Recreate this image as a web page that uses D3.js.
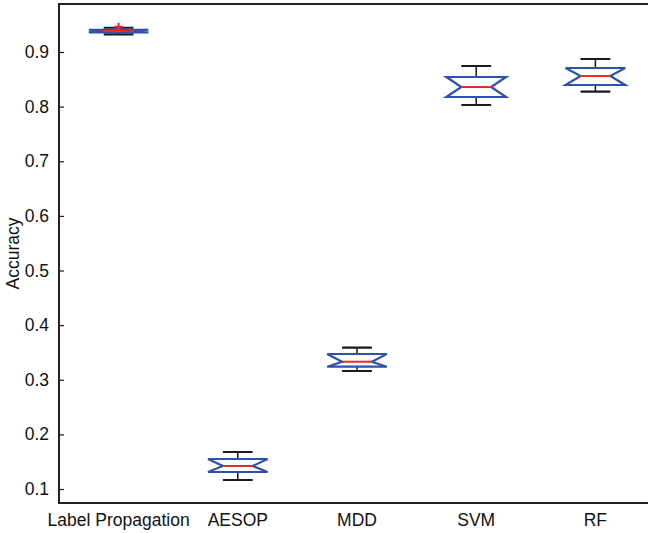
<!DOCTYPE html>
<html>
<head>
<meta charset="utf-8">
<script src="https://cdn.jsdelivr.net/npm/d3@7"></script>
<style>
  body { margin: 0; background: #fff; }
  text { font-family: "Liberation Sans", Arial, sans-serif; }
</style>
</head>
<body>
<div id="chart"></div>
<script>
const categories = ["Label Propagation", "AESOP", "MDD", "SVM", "RF"];
const whiskerLow = [0.9323, 0.1165, 0.3160, 0.8030, 0.8273];
const q1 = [0.9360, 0.1311, 0.3239, 0.8176, 0.8396];
const medians = [0.9384, 0.1421, 0.3330, 0.8359, 0.8560];
const q3 = [0.9407, 0.1549, 0.3471, 0.8542, 0.8707];
const whiskerHigh = [0.9444, 0.1677, 0.3587, 0.8744, 0.8872];
const outliers = [[0.9462], [], [], [], []];
const yTicks = [0.1, 0.2, 0.3, 0.4, 0.5, 0.6, 0.7, 0.8, 0.9];

(function boxes(){
let width = 648,
    height = 533,
    margin = ({top: 4, right: -7, bottom: 30, left: 59});

const fs = 17.5;

const svg = d3.select("#chart")
    .append("svg")
    .attr("width", width)
    .attr("height", height);

let data = categories.map((c, i) => ({
    name: c, pos: i + 1,
    lo: whiskerLow[i], q1: q1[i], med: medians[i], q3: q3[i], hi: whiskerHigh[i],
    out: outliers[i]
}));

let x = d3.scaleLinear()
    .domain([0.5, categories.length + 0.5])
    .range([margin.left, width - margin.right]);

let y = d3.scaleLinear()
    .domain([0.07437, 0.98787])
    .range([height - margin.bottom, margin.top]);

const boxW = x(1.25) - x(0.75);
const blue = "#3050ad", red = "#ec2a24", ink = "#1a1a1a";

// y axis, ticks pointing inward
const yAxis = g => g
    .attr("transform", `translate(${margin.left},0)`)
    .call(d3.axisRight(y).tickValues(yTicks).tickFormat(d3.format(".1f")).tickSize(5))
    .call(g => g.select(".domain").remove())
    .call(g => g.selectAll(".tick line").attr("stroke", ink).attr("stroke-width", 1.2))
    .call(g => g.selectAll(".tick text")
        .attr("x", -10)
        .attr("text-anchor", "end")
        .attr("font-size", fs)
        .attr("fill", "#111"));

svg.append("g").call(yAxis);

// x category labels
svg.append("g")
    .selectAll("text")
    .data(data)
    .join("text")
    .attr("x", d => x(d.pos))
    .attr("y", height - margin.bottom + 23)
    .attr("text-anchor", "middle")
    .attr("font-size", fs)
    .attr("fill", "#111")
    .text(d => d.name);

svg.append("text")
    .attr("transform", `translate(19,${(y.range()[0] + y.range()[1]) / 2}) rotate(-90)`)
    .attr("text-anchor", "middle")
    .attr("font-size", fs)
    .attr("fill", "#111")
    .text("Accuracy");

let box = svg.selectAll(".box")
    .data(data)
    .join("g")
    .attr("class", "box");

// whiskers
box.append("path")
    .attr("fill", "none")
    .attr("stroke", ink)
    .attr("stroke-width", 1.5)
    .attr("d", d => `M${x(d.pos)},${y(d.hi)}V${y(d.q3)}M${x(d.pos)},${y(d.q1)}V${y(d.lo)}`);

box.append("path")
    .attr("fill", "none")
    .attr("stroke", ink)
    .attr("stroke-width", 2.2)
    .attr("d", d => {
        let c = x(d.pos);
        return `M${c - boxW / 4},${y(d.hi)}H${c + boxW / 4}M${c - boxW / 4},${y(d.lo)}H${c + boxW / 4}`;
    });

// notched box outline
box.append("path")
    .attr("fill", "none")
    .attr("stroke", blue)
    .attr("stroke-width", 2.2)
    .attr("stroke-linejoin", "miter")
    .attr("d", d => {
        let c = x(d.pos), l = c - boxW / 2, r = c + boxW / 2;
        return `M${l},${y(d.q3)}L${r},${y(d.q3)}L${c + boxW / 4},${y(d.med)}L${r},${y(d.q1)}` +
               `L${l},${y(d.q1)}L${c - boxW / 4},${y(d.med)}Z`;
    });

box.append("line")
    .attr("stroke", red)
    .attr("stroke-width", 2)
    .attr("x1", d => x(d.pos) - boxW / 4)
    .attr("x2", d => x(d.pos) + boxW / 4)
    .attr("y1", d => y(d.med))
    .attr("y2", d => y(d.med));

// outliers as red plus
box.selectAll(".out")
    .data(d => d.out.map(v => ({pos: d.pos, v: v})))
    .join("path")
    .attr("class", "out")
    .attr("stroke", red)
    .attr("stroke-width", 2)
    .attr("d", d => `M${x(d.pos) - 4},${y(d.v)}h8M${x(d.pos)},${y(d.v) - 4}v8`);

// axes frame
svg.append("rect")
    .attr("x", margin.left)
    .attr("y", margin.top)
    .attr("width", x.range()[1] - margin.left)
    .attr("height", y.range()[0] - margin.top)
    .attr("fill", "none")
    .attr("stroke", "#222")
    .attr("stroke-width", 2);
})();
</script>
</body>
</html>
